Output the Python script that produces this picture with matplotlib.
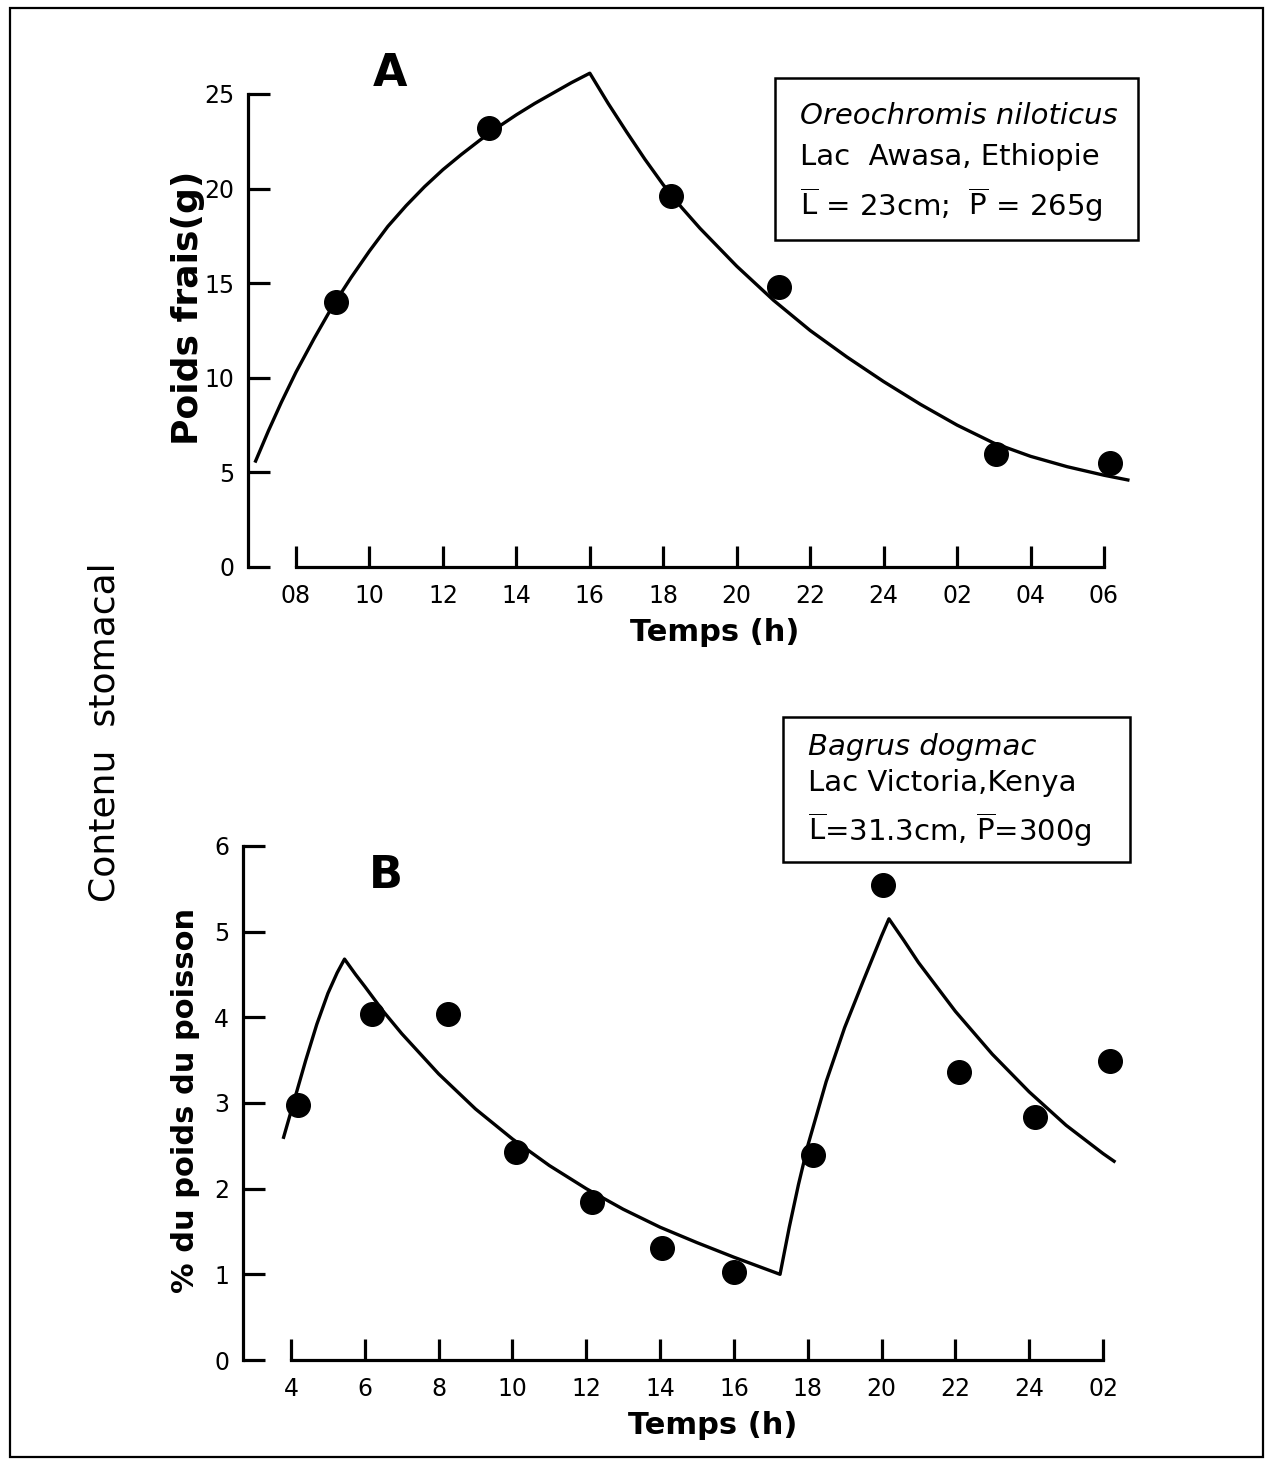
import matplotlib.pyplot as plt
from matplotlib.patches import Rectangle

plt.rcParams['font.family'] = ['DejaVu Sans']
plt.rcParams['mathtext.fontset'] = 'dejavusans'

# ---- panel A : Oreochromis niloticus, poids frais (g) ----
a_hours = [9.1, 13.25, 18.2, 21.15, 27.05, 30.15]
a_weight = [14.0, 23.2, 19.6, 14.8, 5.95, 5.5]
a_curve_hours = [6.9, 7.25, 7.6, 8.0, 8.5, 9.0, 9.5, 10.0, 10.5, 11.0, 11.5, 12.0, 12.5,
                 13.0, 13.5, 14.0, 14.5, 15.0, 15.5, 16.0,
                 16.5, 17.0, 17.5, 18.0, 18.5, 19.0, 20.0, 21.0, 22.0, 23.0,
                 24.0, 25.0, 26.0, 27.0, 28.0, 29.0, 30.0, 30.65]
a_curve_weight = [5.6, 7.2, 8.7, 10.3, 12.1, 13.8, 15.3, 16.7, 18.0, 19.1, 20.1, 21.0, 21.8,
                  22.55, 23.25, 23.9, 24.5, 25.05, 25.6, 26.1,
                  24.5, 23.0, 21.55, 20.2, 19.0, 17.9, 15.9, 14.1, 12.5, 11.1,
                  9.8, 8.6, 7.5, 6.55, 5.85, 5.3, 4.85, 4.6]
a_xticks = [8, 10, 12, 14, 16, 18, 20, 22, 24, 26, 28, 30]
a_xlabels = ['08', '10', '12', '14', '16', '18', '20', '22', '24', '02', '04', '06']
a_yticks = [0, 5, 10, 15, 20, 25]

# ---- panel B : Bagrus dogmac, % du poids du poisson ----
b_hours = [4.2, 6.2, 8.25, 10.1, 12.15, 14.05, 16.0, 18.15, 20.05, 22.1, 24.15, 26.2]
b_pct = [2.98, 4.04, 4.04, 2.43, 1.85, 1.31, 1.03, 2.39, 5.54, 3.36, 2.84, 3.49]
b_curve_hours = [3.8, 4.1, 4.4, 4.7, 5.0, 5.25, 5.45,
                 5.75, 6.0, 6.5, 7.0, 8.0, 9.0, 10.0, 11.0, 12.0, 13.0, 14.0, 15.0, 16.0, 17.25,
                 17.5, 17.75, 18.0, 18.5, 19.0, 19.5, 20.0, 20.2,
                 20.6, 21.0, 22.0, 23.0, 24.0, 25.0, 26.0, 26.3]
b_curve_pct = [2.6, 3.05, 3.5, 3.92, 4.28, 4.52, 4.68,
               4.5, 4.36, 4.07, 3.81, 3.34, 2.93, 2.58, 2.27, 2.0, 1.76, 1.55, 1.37, 1.2, 1.0,
               1.55, 2.05, 2.5, 3.25, 3.88, 4.42, 4.95, 5.15,
               4.9, 4.64, 4.07, 3.57, 3.13, 2.74, 2.41, 2.32]
b_xticks = [4, 6, 8, 10, 12, 14, 16, 18, 20, 22, 24, 26]
b_xlabels = ['4', '6', '8', '10', '12', '14', '16', '18', '20', '22', '24', '02']
b_yticks = [0, 1, 2, 3, 4, 5, 6]

W, H = 1274, 1462


def fx(px):
    return px / W


def fy(py):
    return 1 - py / H


def make_axes(fig, left_px, right_px, top_px, x0, x0_px, x1, x1_px, y0_px, y1, y1_px):
    """axes placed so that data values land on the given pixel positions"""
    sx = (x1_px - x0_px) / (x1 - x0)
    sy = (y0_px - y1_px) / y1
    ax = fig.add_axes([fx(left_px), fy(y0_px), (right_px - left_px) / W, (y0_px - top_px) / H])
    ax.set_xlim(x0 - (x0_px - left_px) / sx, x1 + (right_px - x1_px) / sx)
    ax.set_ylim(0, (y0_px - top_px) / sy)
    return ax


def style(ax, xticks, xlabels, yticks):
    lw = 2.3
    for s in ['top', 'right']:
        ax.spines[s].set_visible(False)
    ax.spines['left'].set_linewidth(lw)
    ax.spines['bottom'].set_linewidth(lw)
    ax.spines['left'].set_bounds(yticks[0], yticks[-1])
    ax.spines['bottom'].set_bounds(xticks[0], xticks[-1])
    ax.set_xticks(xticks)
    ax.set_xticklabels(xlabels)
    ax.set_yticks(yticks)
    ax.tick_params(axis='x', direction='in', length=15, width=lw, pad=12, labelsize=17)
    ax.tick_params(axis='y', direction='in', length=16, width=lw, pad=10, labelsize=17)
    ax.patch.set_visible(False)


fig = plt.figure(figsize=(W / 100, H / 100), dpi=100)

# panel A
axA = make_axes(fig, 248, 1132, 60, 8, 296, 30, 1104, 567, 25, 94)
style(axA, a_xticks, a_xlabels, a_yticks)
axA.plot(a_curve_hours, a_curve_weight, color='black', lw=2.4, clip_on=False)
axA.plot(a_hours, a_weight, 'o', color='black', ms=17, clip_on=False)

# panel B
axB = make_axes(fig, 243, 1132, 828, 4, 291, 26, 1103, 1360, 6, 846)
style(axB, b_xticks, b_xlabels, b_yticks)
axB.plot(b_curve_hours, b_curve_pct, color='black', lw=2.4, clip_on=False)
axB.plot(b_hours, b_pct, 'o', color='black', ms=17, clip_on=False)

# panel letters and axis titles
fig.text(fx(390), fy(74), 'A', fontsize=32, fontweight='bold', ha='center', va='center')
fig.text(fx(386), fy(876), 'B', fontsize=32, fontweight='bold', ha='center', va='center')
fig.text(fx(715), fy(633), 'Temps (h)', fontsize=22, fontweight='bold', ha='center', va='center')
fig.text(fx(713), fy(1425), 'Temps (h)', fontsize=22, fontweight='bold', ha='center', va='center')
fig.text(fx(188), fy(308), 'Poids frais(g)', fontsize=26, fontweight='bold', rotation=90,
         ha='center', va='center')
fig.text(fx(185), fy(1100), '% du poids du poisson', fontsize=22, fontweight='bold', rotation=90,
         ha='center', va='center')
fig.text(fx(105), fy(732), 'Contenu  stomacal', fontsize=26, rotation=90,
         ha='center', va='center')

# boxes with species info
fig.add_artist(Rectangle((fx(775), fy(240)), (1138 - 775) / W, (240 - 78) / H,
                         transform=fig.transFigure, fill=False, lw=1.8, color='black'))
fig.text(fx(800), fy(116), 'Oreochromis niloticus', fontsize=21, style='italic', va='center')
fig.text(fx(800), fy(157), 'Lac  Awasa, Ethiopie', fontsize=21, va='center')
fig.text(fx(800), fy(205), r'$\overline{\mathrm{L}}$ = 23cm;  $\overline{\mathrm{P}}$ = 265g',
         fontsize=21, va='center')

fig.add_artist(Rectangle((fx(783), fy(862)), (1130 - 783) / W, (862 - 717) / H,
                         transform=fig.transFigure, fill=False, lw=1.8, color='black'))
fig.text(fx(808), fy(747), 'Bagrus dogmac', fontsize=21, style='italic', va='center')
fig.text(fx(808), fy(783), 'Lac Victoria,Kenya', fontsize=21, va='center')
fig.text(fx(808), fy(830), r'$\overline{\mathrm{L}}$=31.3cm, $\overline{\mathrm{P}}$=300g',
         fontsize=21, va='center')

# outer frame
fig.add_artist(Rectangle((fx(10), fy(1457)), (1263 - 10) / W, (1457 - 8) / H,
                         transform=fig.transFigure, fill=False, lw=1.6, color='black'))

fig.savefig('out.png', dpi=100)
